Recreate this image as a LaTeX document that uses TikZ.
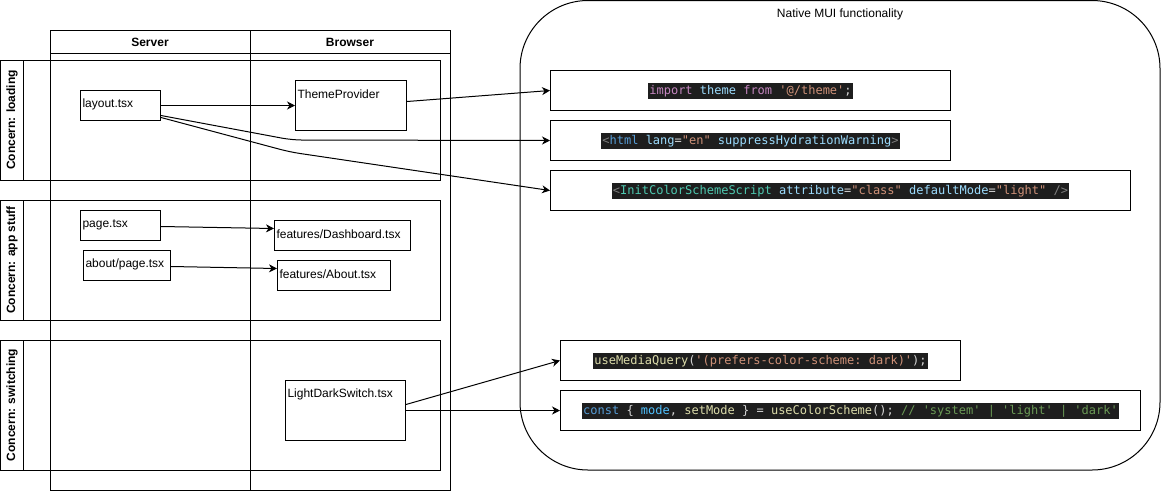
\documentclass[tikz,border=0pt]{standalone}
\usepackage{fontspec}
\setmainfont{Liberation Sans}
\setmonofont{DejaVu Sans Mono}
\usepackage{tikz}
\usetikzlibrary{positioning, arrows.meta, calc}

\definecolor{cbg}{HTML}{1E1E1E}
\definecolor{ckey}{HTML}{C586C0}
\definecolor{cvar}{HTML}{9CDCFE}
\definecolor{cstr}{HTML}{CE9178}
\definecolor{cpun}{HTML}{D4D4D4}
\definecolor{ctag}{HTML}{808080}
\definecolor{chtml}{HTML}{569CD6}
\definecolor{ccomp}{HTML}{4EC9B0}
\definecolor{cfun}{HTML}{DCDCAA}
\definecolor{cconst}{HTML}{4FC1FF}
\definecolor{ccom}{HTML}{6A9955}

\newcommand{\tok}[2]{\textcolor{#1}{#2}}
\newcommand{\codeline}[1]{{\setlength{\fboxsep}{0pt}\colorbox{cbg}{\ttfamily\hspace{1pt}\rule[-4pt]{0pt}{16pt}#1\hspace{1pt}}}}

\begin{document}
\begin{tikzpicture}[x=1pt, y=-1pt, line width=1pt,
  every node/.style={font=\fontsize{12}{14}\selectfont},
  file/.style={draw, anchor=north west, inner sep=0pt},
  fname/.style={anchor=west, xshift=1pt, yshift=-14.5pt, inner sep=1pt},
  codebox/.style={draw, anchor=north west, inner sep=0pt},
  head/.style={font=\fontsize{12}{14}\selectfont\bfseries},
  lane/.style={font=\fontsize{12}{14}\selectfont\bfseries, rotate=90},
  arr/.style={-{Stealth[length=8pt, width=8pt, inset=2.5pt]}}]
\useasboundingbox (0,0) rectangle (1161,491);
% table
\draw (50,30) rectangle (450,490);
\draw (50,53) -- (450,53);
\draw (250,30) -- (250,490);
\node[head] (server) at (150,42) {Server};
\node[head] (browser) at (350,42) {Browser};
% lanes
\draw (0.5,60) rectangle (440,180);
\draw (23,60) -- (23,180);
\draw (0.5,200) rectangle (440,320);
\draw (23,200) -- (23,320);
\draw (0.5,340) rectangle (440,470);
\draw (23,340) -- (23,470);
\node[lane] (laneA) at (12,120) {Concern: loading};
\node[lane] (laneB) at (12,260) {Concern: app stuff};
\node[lane] (laneC) at (12,405) {Concern: switching};
% files
\node[file, minimum width=80, minimum height=30] (layout) at (80,90) {};
\node[fname] (layoutT) at (layout.north west) {layout.tsx};
\node[file, minimum width=111, minimum height=50] (theme) at (295,80) {};
\node[fname] (themeT) at (theme.north west) {ThemeProvider};
\node[file, minimum width=80, minimum height=30] (page) at (80,210) {};
\node[fname] (pageT) at (page.north west) {page.tsx};
\node[file, minimum width=87, minimum height=30] (about) at (83,250) {};
\node[fname] (aboutT) at (about.north west) {about/page.tsx};
\node[file, minimum width=136, minimum height=30] (dash) at (274,220) {};
\node[fname] (dashT) at (dash.north west) {features/Dashboard.tsx};
\node[file, minimum width=113, minimum height=30] (aboutf) at (277,260) {};
\node[fname] (aboutfT) at (aboutf.north west) {features/About.tsx};
\node[file, minimum width=120, minimum height=60] (switch) at (285,380) {};
\node[fname] (switchT) at (switch.north west) {LightDarkSwitch.tsx};
% native MUI
\draw[rounded corners=68pt] (520,0.5) rectangle (1160,470);
\node (mui) at (840,14) {Native MUI functionality};
\node[codebox, minimum width=400, minimum height=40] (imp) at (550,70)
  {\codeline{\tok{ckey}{import} \tok{cvar}{theme} \tok{ckey}{from} \tok{cstr}{'@/theme'}\tok{cpun}{;}}};
\node[codebox, minimum width=400, minimum height=40] (html) at (550,120)
  {\codeline{\tok{ctag}{<}\tok{chtml}{html} \tok{cvar}{lang}\tok{cpun}{=}\tok{cstr}{"en"} \tok{cvar}{suppressHydrationWarning}\tok{ctag}{>}}};
\node[codebox, minimum width=580, minimum height=40] (init) at (550,170)
  {\codeline{\tok{ctag}{<}\tok{ccomp}{InitColorSchemeScript} \tok{cvar}{attribute}\tok{cpun}{=}\tok{cstr}{"class"} \tok{cvar}{defaultMode}\tok{cpun}{=}\tok{cstr}{"light"} \tok{ctag}{/>}}};
\node[codebox, minimum width=400, minimum height=40] (media) at (560,340)
  {\codeline{\tok{cfun}{useMediaQuery}\tok{cpun}{(}\tok{cstr}{'(prefers-color-scheme: dark)'}\tok{cpun}{);}}};
\node[codebox, minimum width=580, minimum height=40] (scheme) at (560,390)
  {\codeline{\tok{chtml}{const} \tok{cpun}{\{} \tok{cconst}{mode}\tok{cpun}{,} \tok{cfun}{setMode} \tok{cpun}{\} =} \tok{cfun}{useColorScheme}\tok{cpun}{();} \tok{ccom}{// 'system' | 'light' | 'dark'}}};
% edges
\coordinate (bendA) at (292,140);
\coordinate (bendB) at (290,152);
\draw[arr] (layout.east) -- (theme.west);
\draw[arr] ([yshift=4pt]theme.east) -- (imp.west);
\draw[arr, rounded corners=10pt] ([yshift=-10pt]layout.east) -- (bendA) -- (html.west);
\draw[arr, rounded corners=10pt] ([yshift=-12pt]layout.east) -- (bendB) -- (init.west);
\draw[arr] ([yshift=-1pt]page.east) -- ([yshift=7pt]dash.west);
\draw[arr] ([yshift=-1pt]about.east) -- ([yshift=7pt]aboutf.west);
\draw[arr] ([yshift=6pt]switch.east) -- (media.west);
\draw[arr] (switch.east) -- (scheme.west);
\end{tikzpicture}
\end{document}
